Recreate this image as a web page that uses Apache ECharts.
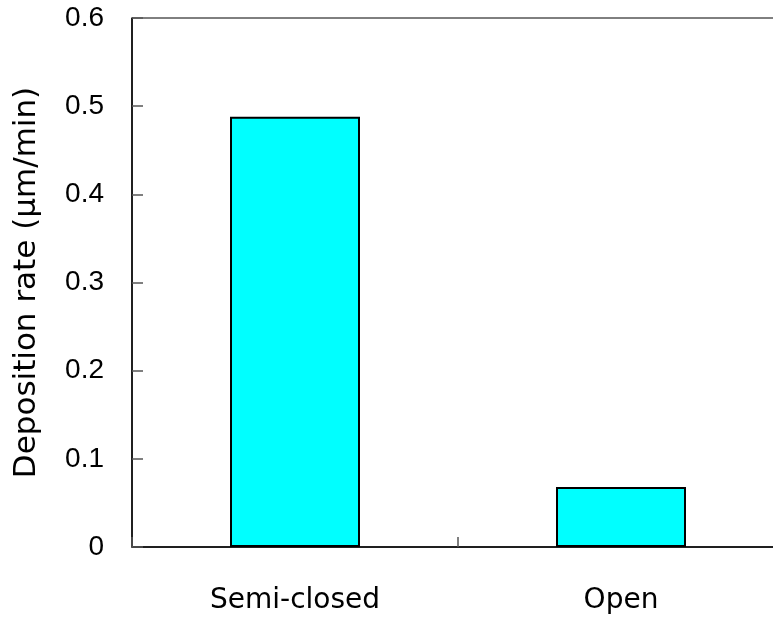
<!DOCTYPE html>
<html>
<head>
<meta charset="utf-8">
<script src="https://cdn.jsdelivr.net/npm/echarts@6/dist/echarts.min.js"></script>
<style>
  html, body { margin: 0; padding: 0; background: #fff; }
  #chart { width: 773px; height: 618px; }
</style>
</head>
<body>
<div id="chart"></div>
<script>
// Deposition rate for the two chamber configurations
const categories = ['Semi-closed', 'Open'];
const depositionRate = [0.488, 0.068];
const yTicks = { min: 0, max: 0.6, interval: 0.1 };

const chart = echarts.init(document.getElementById('chart'));
chart.setOption({
  animation: false,
  backgroundColor: '#fff',
  grid: {
    left: 132, top: 18, width: 652, height: 529,
    outerBoundsMode: 'none',
    containLabel: false,
    show: true, borderColor: '#000', borderWidth: 1,
    backgroundColor: 'transparent'
  },
  xAxis: {
    type: 'category',
    data: categories,
    axisLine: { lineStyle: { color: '#000', width: 1.5 } },
    axisTick: { show: true, inside: true, length: 10, interval: 0, lineStyle: { color: '#555', width: 1.5 } },
    axisLabel: {
      margin: 40, color: '#000', fontSize: 28,
      fontFamily: '"DejaVu Sans", sans-serif'
    }
  },
  yAxis: {
    type: 'value',
    min: yTicks.min, max: yTicks.max, interval: yTicks.interval,
    name: 'Deposition rate (µm/min)',
    nameLocation: 'middle',
    nameGap: 90,
    nameTextStyle: { color: '#000', fontSize: 31, fontFamily: '"DejaVu Sans", sans-serif' },
    axisLine: { show: true, lineStyle: { color: '#000', width: 1.5 } },
    axisTick: { show: true, inside: true, length: 11, lineStyle: { color: '#555', width: 1.5 } },
    splitLine: { show: false },
    axisLabel: {
      margin: 28, color: '#000', fontSize: 28,
      fontFamily: '"Liberation Sans", Arial, sans-serif',
      formatter: v => (Math.round(v * 10) / 10).toString()
    }
  },
  series: [{
    type: 'bar',
    data: depositionRate,
    barWidth: 130,
    itemStyle: { color: '#00ffff', borderColor: '#000', borderWidth: 2 }
  }]
});
</script>
</body>
</html>
